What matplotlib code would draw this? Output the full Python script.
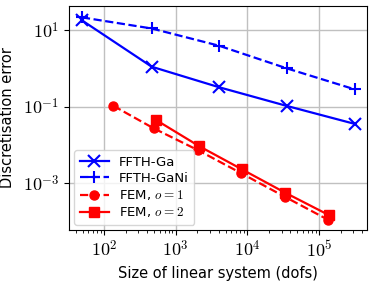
import matplotlib
matplotlib.use("Agg")
import matplotlib.pyplot as plt

plt.rcParams["mathtext.fontset"] = "cm"

# data
ffth_dofs = [49, 462, 4020, 35300, 318000]
ffth_ga = [18, 1.1, 0.32, 0.104, 0.035]
ffth_gani = [21.5, 11, 3.9, 1.0, 0.28]

fem1_dofs = [135, 490, 2050, 8200, 33000, 135000]
fem1_err = [0.104, 0.027, 0.0072, 0.0018, 4.4e-4, 1.08e-4]

fem2_dofs = [525, 2100, 8300, 33500, 137000]
fem2_err = [0.045, 0.0093, 0.0023, 5.6e-4, 1.45e-4]

fig = plt.figure(figsize=(3.76, 2.83), dpi=100)
ax = fig.add_axes([69 / 376, 53 / 283, 298 / 376, 224 / 283])

ax.loglog(ffth_dofs, ffth_ga, "b-x", lw=1.6, ms=8, mew=1.5, label="FFTH-Ga")
ax.loglog(ffth_dofs, ffth_gani, "b--+", lw=1.6, ms=8, mew=1.5, label="FFTH-GaNi")
ax.loglog(fem1_dofs, fem1_err, "r--o", lw=1.6, ms=6.5, label="FEM, $o=1$")
ax.loglog(fem2_dofs, fem2_err, "r-s", lw=1.6, ms=7, label="FEM, $o=2$")

ax.set_xlim(10**1.51, 10**5.67)
ax.set_ylim(10**-4.23, 10**1.63)
ax.set_yticks([1e1, 1e-1, 1e-3])
ax.set_yticklabels([r"$10^{1}$", r"$10^{-1}$", r"$10^{-3}$"])
ax.set_xticks([1e2, 1e3, 1e4, 1e5])
ax.set_xticklabels([r"$10^{2}$", r"$10^{3}$", r"$10^{4}$", r"$10^{5}$"])
ax.tick_params(labelsize=13)
ax.tick_params(axis="y", which="minor", left=False)
ax.grid(True, which="major", color="#c0c0c0", lw=1)
ax.set_axisbelow(True)

ax.set_xlabel("Size of linear system (dofs)", fontsize=10.5)
ax.set_ylabel("Discretisation error", fontsize=10.5, labelpad=6)
ax.legend(loc="lower left", fontsize=9.5, handlelength=2.2, labelspacing=0.25,
          borderaxespad=0.4, borderpad=0.4)

fig.savefig("out.png", dpi=100)
